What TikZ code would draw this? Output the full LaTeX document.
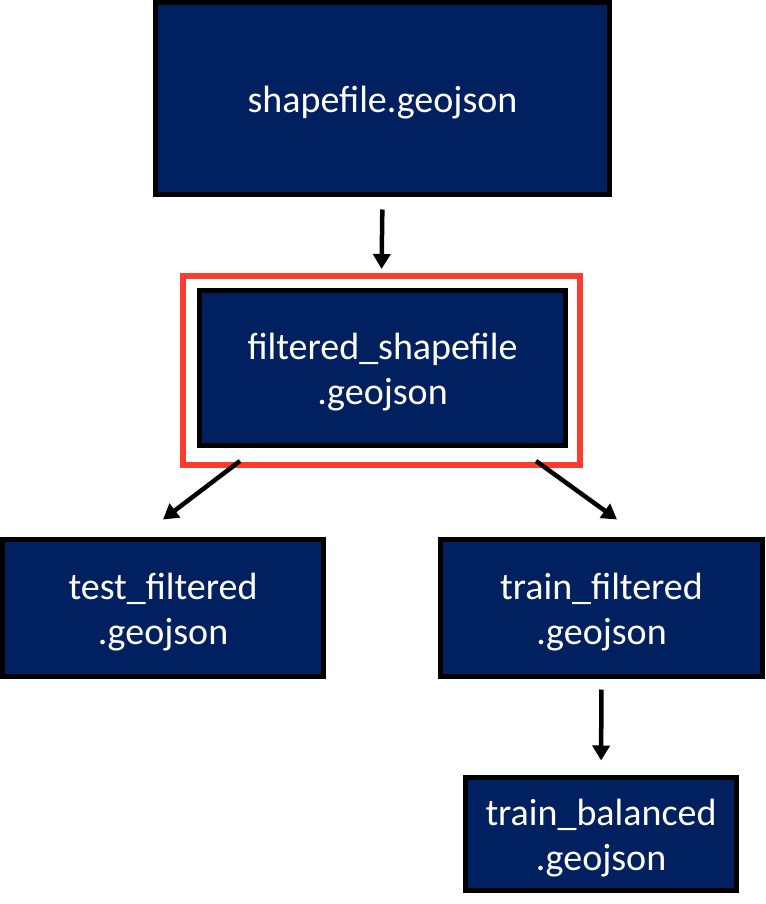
\documentclass[tikz,border=0pt]{standalone}
\usepackage{fontspec}
\setmainfont{Carlito}
\usetikzlibrary{arrows.meta,calc}
\definecolor{navy}{HTML}{002060}
\definecolor{hlred}{HTML}{FF3B30}
\newcommand\mytop{\rule{0pt}{0.92em}}
\begin{document}
\begin{tikzpicture}[x=1pt,y=1pt,
  filebox/.style={draw=black,line width=5pt,fill=navy,text=white,
    font=\fontsize{38}{45}\selectfont,align=center,inner sep=0pt,
    rectangle,anchor=center},
  hlbox/.style={draw=hlred,line width=6pt,inner sep=0pt,rectangle},
  arr/.style={draw=black,line width=4.5pt,-{Triangle[length=15pt,width=17pt]}}]
\useasboundingbox (0,0) rectangle (765,-904);
\node[hlbox,minimum width=397pt,minimum height=189pt] (hl) at (381.5,-370.5) {};
\node[filebox,minimum width=454pt,minimum height=192pt] (shp) at (382.5,-98.5) {\mytop shapefile.geojson};
\node[filebox,minimum width=366pt,minimum height=155pt] (flt) at (382.5,-368) {\mytop filtered\_shapefile\\.geojson};
\node[filebox,minimum width=321pt,minimum height=137pt] (test) at (163,-608) {\mytop test\_filtered\\.geojson};
\node[filebox,minimum width=322pt,minimum height=137pt] (train) at (601.5,-608) {\mytop train\_filtered\\.geojson};
\node[filebox,minimum width=271pt,minimum height=113pt] (bal) at (601,-834) {\mytop train\_balanced\\.geojson};
\draw[arr,shorten <=12.5pt,shorten >=4pt] (shp.south) -- (hl.north);
\coordinate (ls) at ($(hl.south west)+(60,7)$);
\coordinate (le) at ($(test.north)+(0,17.5)$);
\coordinate (rs) at ($(hl.south east)+(-47,7)$);
\coordinate (re) at ($(train.north)+(15.5,17.5)$);
\draw[arr] (ls) -- (le);
\draw[arr] (rs) -- (re);
\draw[arr,shorten <=10.5pt,shorten >=14.5pt] (train.south) -- (bal.north);
\end{tikzpicture}
\end{document}
